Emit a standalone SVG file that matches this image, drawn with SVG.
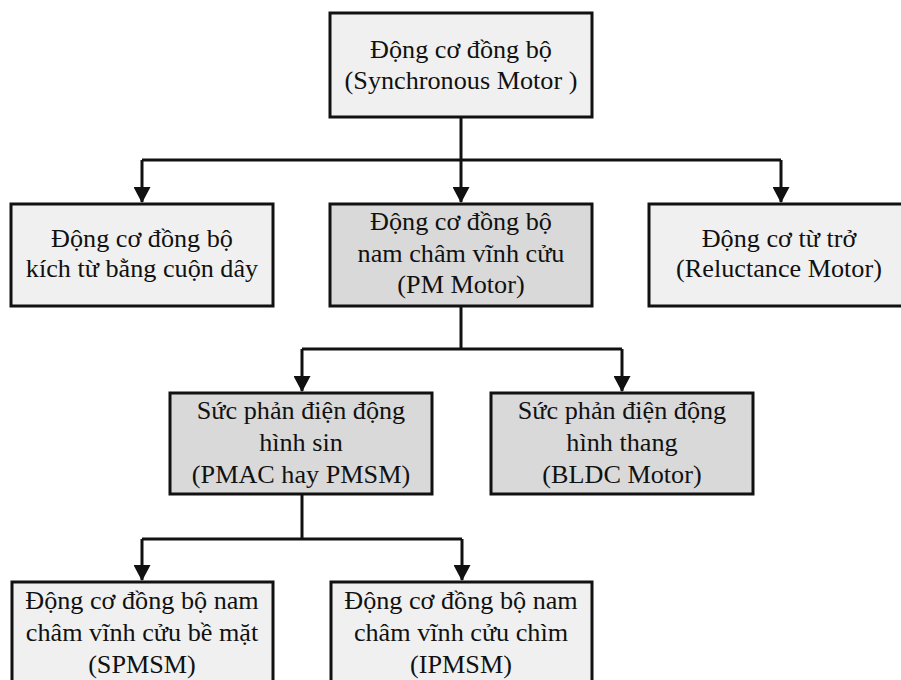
<svg xmlns="http://www.w3.org/2000/svg" width="901" height="680" viewBox="0 0 901 680">
<defs>
<style>
.box{stroke:#111;stroke-width:3}
.light{fill:#f0f0f0}
.dark{fill:#d9d9d9}
text{font-family:'Liberation Serif','Times New Roman',serif;font-size:26.2px;fill:#111;text-anchor:middle}
.c{fill:none;stroke:#111;stroke-width:3}
</style>
<marker id="arr" viewBox="0 0 16 17" refX="15" refY="8.5" markerWidth="16" markerHeight="17" markerUnits="userSpaceOnUse" orient="auto">
<path d="M0,0 L16,8.5 L0,17 Z" fill="#111"/>
</marker>
</defs>
<rect width="901" height="680" fill="#fff"/>
<g id="connectors">
<path class="c" d="M461,117 V160"/>
<path class="c" d="M142,160 H781"/>
<path class="c" d="M142,160 V202" marker-end="url(#arr)"/>
<path class="c" d="M461,160 V202" marker-end="url(#arr)"/>
<path class="c" d="M781,160 V202" marker-end="url(#arr)"/>
<path class="c" d="M461,306 V349"/>
<path class="c" d="M302,349 H622"/>
<path class="c" d="M302,349 V391" marker-end="url(#arr)"/>
<path class="c" d="M622,349 V391" marker-end="url(#arr)"/>
<path class="c" d="M302,494 V539"/>
<path class="c" d="M142,539 H462"/>
<path class="c" d="M142,539 V580" marker-end="url(#arr)"/>
<path class="c" d="M462,539 V580" marker-end="url(#arr)"/>
</g>
<g id="n_sync">
<rect class="box light" x="330" y="13" width="262" height="104"/>
<text x="461" y="58">Động cơ đồng bộ</text>
<text x="461" y="89">(Synchronous Motor )</text>
</g>
<g id="n_wound">
<rect class="box light" x="11" y="204" width="262" height="102"/>
<text x="142" y="247">Động cơ đồng bộ</text>
<text x="142" y="277">kích từ bằng cuộn dây</text>
</g>
<g id="n_pm">
<rect class="box dark" x="330" y="204" width="262" height="102"/>
<text x="461" y="230">Động cơ đồng bộ</text>
<text x="461" y="262">nam châm vĩnh cửu</text>
<text x="461" y="293">(PM Motor)</text>
</g>
<g id="n_rel">
<rect class="box light" x="649" y="204" width="262" height="102"/>
<text x="779" y="247">Động cơ từ trở</text>
<text x="779" y="277">(Reluctance Motor)</text>
</g>
<g id="n_pmsm">
<rect class="box dark" x="170" y="393" width="262" height="101"/>
<text x="301" y="419">Sức phản điện động</text>
<text x="301" y="451">hình sin</text>
<text x="301" y="483">(PMAC hay PMSM)</text>
</g>
<g id="n_bldc">
<rect class="box dark" x="491" y="393" width="262" height="101"/>
<text x="622" y="419">Sức phản điện động</text>
<text x="622" y="451">hình thang</text>
<text x="622" y="483">(BLDC Motor)</text>
</g>
<g id="n_spmsm">
<rect class="box light" x="12" y="582" width="261" height="110"/>
<text x="142" y="609">Động cơ đồng bộ nam</text>
<text x="142" y="641">châm vĩnh cửu bề mặt</text>
<text x="142" y="673">(SPMSM)</text>
</g>
<g id="n_ipmsm">
<rect class="box light" x="331" y="582" width="261" height="110"/>
<text x="461" y="609">Động cơ đồng bộ nam</text>
<text x="461" y="641">châm vĩnh cửu chìm</text>
<text x="461" y="673">(IPMSM)</text>
</g>
</svg>
